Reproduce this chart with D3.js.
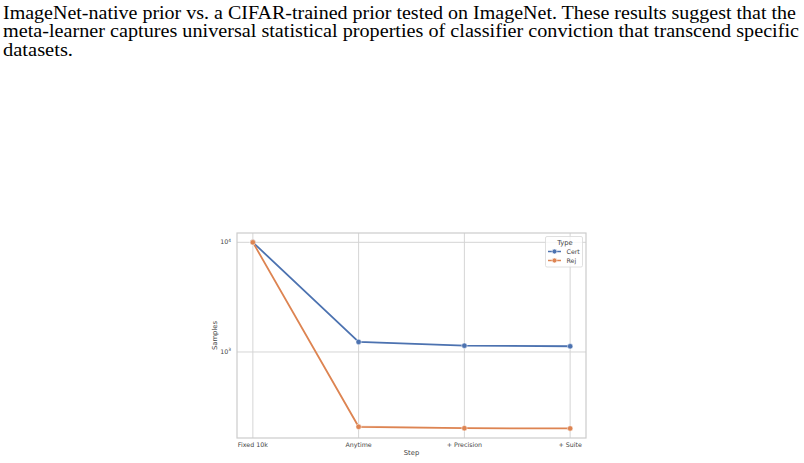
<!DOCTYPE html>
<html>
<head>
<meta charset="utf-8">
<script src="https://cdn.jsdelivr.net/npm/d3@7"></script>
<style>
  body { margin: 0; background: #fff; }
  svg { display: block; }
</style>
</head>
<body>
<div id="chart"></div>
<script>
// paragraph lines above the figure
var paraLines = [
  "ImageNet-native prior vs. a CIFAR-trained prior tested on ImageNet. These results suggest that the",
  "meta-learner captures universal statistical properties of classifier conviction that transcend specific",
  "datasets."
];
var paraWidths = [793, 796, 70];

// chart data
var steps = ["Fixed 10k", "Anytime", "+ Precision", "+ Suite"];
var certVals = [10000, 1235, 1142, 1128];
var rejVals = [10000, 208, 202, 201];
var certLo = [10000, 1222, 1136, 1122];
var certHi = [10000, 1248, 1148, 1134];
var rejLo = [10000, 203, 200, 199];
var rejHi = [10000, 214, 205, 203];
var yTicks = [1000, 10000];
var seriesNames = ["Cert", "Rej"];

var width = 804, height = 463;
var svg = d3.select("#chart").append("svg")
  .attr("width", width)
  .attr("height", height);

// text block
svg.selectAll("text.para")
  .data(paraLines)
  .enter().append("text")
    .attr("class", "para")
    .attr("x", 3)
    .attr("y", function(d, i) { return 19 + i * 18.3; })
    .attr("textLength", function(d, i) { return paraWidths[i]; })
    .attr("lengthAdjust", "spacingAndGlyphs")
    .style("font-family", "'Liberation Serif', 'Times New Roman', serif")
    .style("font-size", "18px")
    .style("fill", "#000")
    .text(function(d) { return d; });

// plot area
var pLeft = 237, pRight = 586, pTop = 233, pBottom = 438;
var x = d3.scalePoint().domain(steps).range([pLeft, pRight]).padding(0.15);
var y = d3.scaleLog().domain([164.4, 12160]).range([pBottom, pTop]);

var colors = { Cert: "#4c72b0", Rej: "#dd8452" };
var grid = "#d5d5d5";

var g = svg.append("g");

// grid lines
g.selectAll("line.vg")
  .data(steps)
  .enter().append("line")
    .attr("x1", function(d) { return x(d); })
    .attr("x2", function(d) { return x(d); })
    .attr("y1", pTop).attr("y2", pBottom)
    .attr("stroke", grid).attr("stroke-width", 1);

g.selectAll("line.hg")
  .data(yTicks)
  .enter().append("line")
    .attr("x1", pLeft).attr("x2", pRight)
    .attr("y1", function(d) { return y(d); })
    .attr("y2", function(d) { return y(d); })
    .attr("stroke", grid).attr("stroke-width", 1);

// frame
g.append("rect")
  .attr("x", pLeft).attr("y", pTop)
  .attr("width", pRight - pLeft).attr("height", pBottom - pTop)
  .attr("fill", "none").attr("stroke", "#cccccc").attr("stroke-width", 1.2);

// tick labels
var tickFont = "DejaVu Sans, sans-serif";
g.selectAll("text.xt")
  .data(steps)
  .enter().append("text")
    .attr("x", function(d) { return x(d); })
    .attr("y", 447)
    .attr("text-anchor", "middle")
    .style("font-family", tickFont).style("font-size", "6.3px").style("fill", "#444")
    .text(function(d) { return d; });

var yt = g.selectAll("text.yt")
  .data(yTicks)
  .enter().append("text")
    .attr("x", 231)
    .attr("y", function(d) { return y(d) + 2; })
    .attr("text-anchor", "end")
    .style("font-family", tickFont).style("font-size", "6.3px").style("fill", "#444");
yt.append("tspan").text("10");
yt.append("tspan")
  .attr("dy", -2.5)
  .style("font-size", "4.4px")
  .text(function(d) { return Math.round(Math.log10(d)); });

// axis labels
svg.append("text")
  .attr("x", (pLeft + pRight) / 2).attr("y", 455)
  .attr("text-anchor", "middle")
  .style("font-family", tickFont).style("font-size", "6.8px").style("fill", "#444")
  .text("Step");

svg.append("text")
  .attr("transform", "translate(217," + ((pTop + pBottom) / 2) + ") rotate(-90)")
  .attr("text-anchor", "middle")
  .style("font-family", tickFont).style("font-size", "6.8px").style("fill", "#444")
  .text("Samples");

// series
var series = [
  { name: "Cert", vals: certVals, lo: certLo, hi: certHi },
  { name: "Rej", vals: rejVals, lo: rejLo, hi: rejHi }
];

var area = d3.area()
  .x(function(d) { return x(d.step); })
  .y0(function(d) { return y(d.lo); })
  .y1(function(d) { return y(d.hi); });

var line = d3.line()
  .x(function(d) { return x(d.step); })
  .y(function(d) { return y(d.v); });

series.forEach(function(s) {
  var pts = steps.map(function(st, i) {
    return { step: st, v: s.vals[i], lo: s.lo[i], hi: s.hi[i] };
  });
  g.append("path")
    .datum(pts)
    .attr("d", area)
    .attr("fill", colors[s.name]).attr("fill-opacity", 0.2);
  g.append("path")
    .datum(pts)
    .attr("d", line)
    .attr("fill", "none")
    .attr("stroke", colors[s.name])
    .attr("stroke-width", 1.8);
  g.selectAll("circle." + s.name)
    .data(pts)
    .enter().append("circle")
      .attr("cx", function(d) { return x(d.step); })
      .attr("cy", function(d) { return y(d.v); })
      .attr("r", 2.7)
      .attr("fill", colors[s.name])
      .attr("stroke", "#fff").attr("stroke-width", 0.5);
});

// legend
var lg = svg.append("g").attr("transform", "translate(545.5,236.5)");
lg.append("rect")
  .attr("width", 37).attr("height", 30.5).attr("rx", 1.5)
  .attr("fill", "#fff").attr("fill-opacity", 0.8)
  .attr("stroke", "#d8d8d8").attr("stroke-width", 0.8);
lg.append("text")
  .attr("x", 19.5).attr("y", 8)
  .attr("text-anchor", "middle")
  .style("font-family", tickFont).style("font-size", "6.8px").style("fill", "#444")
  .text("Type");
var items = lg.selectAll("g.item")
  .data(seriesNames)
  .enter().append("g")
    .attr("transform", function(d, i) { return "translate(0," + (15 + i * 9) + ")"; });
items.append("line")
  .attr("x1", 2.5).attr("x2", 15.5)
  .attr("stroke", function(d) { return colors[d]; })
  .attr("stroke-width", 1.5);
items.append("circle")
  .attr("cx", 9).attr("r", 2.4)
  .attr("fill", function(d) { return colors[d]; })
  .attr("stroke", "#fff").attr("stroke-width", 0.5);
items.append("text")
  .attr("x", 21).attr("y", 2.2)
  .style("font-family", tickFont).style("font-size", "6.3px").style("fill", "#444")
  .text(function(d) { return d; });
</script>
</body>
</html>
